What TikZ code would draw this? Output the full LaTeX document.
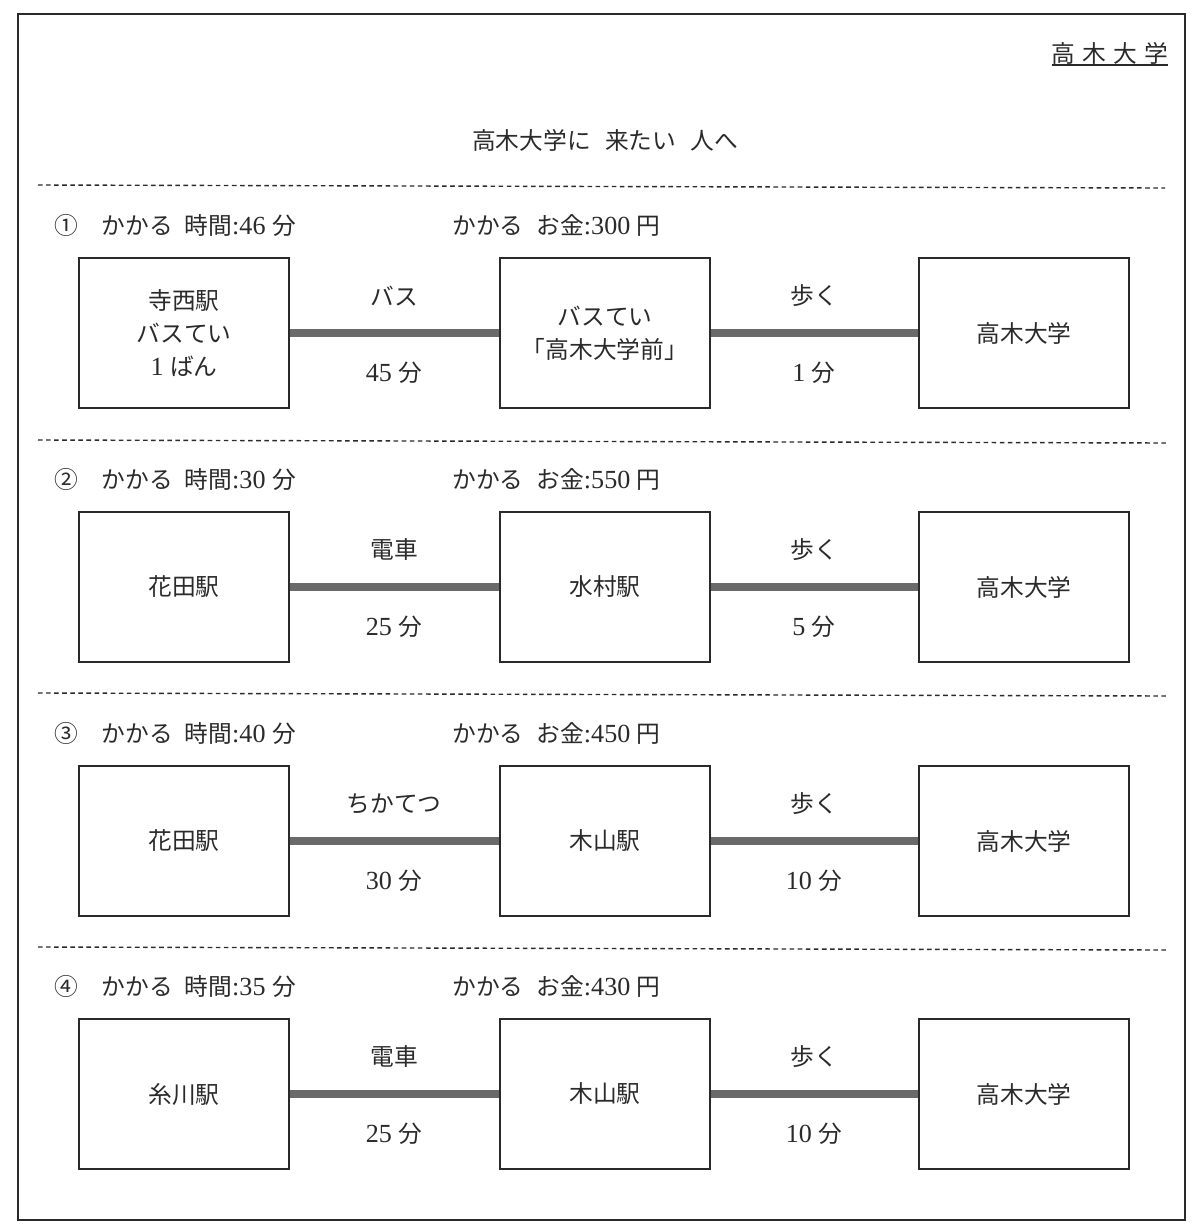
\documentclass[tikz,border=0pt]{standalone}
\usepackage{fontspec}
\setmainfont{Noto Sans CJK JP}
\newfontfamily\lat[Scale=1.1]{Liberation Serif}
\definecolor{routegray}{HTML}{6A6A6A}
\definecolor{ink}{HTML}{2A2A2A}
\tikzset{
  stbox/.style={draw=ink, line width=1.1pt, minimum width=4.2cm, minimum height=3cm, inner sep=0pt, align=center, font=\fontsize{13.5}{18.7}\selectfont, text=ink},
  route/.style={line width=4.6pt, draw=routegray},
  lbl/.style={font=\fontsize{13.5}{16}\selectfont, inner sep=0pt, text=ink},
  sepline/.style={draw=ink, dash pattern=on 2.6pt off 2pt, line width=0.8pt},
}
\newcommand\routerow[9]{%
  % #1 id, #2 top y, #3 header left, #4 money, #5 box1, #6 mode, #7 min, #8 box2, #9 walk min
  \node[lbl, anchor=west] (hl#1) at (54,{#2-33}) {#3};
  \node[lbl, anchor=west] (hr#1) at (452,{#2-33}) {かかる\hspace{0.55em}お金{\lat :#4 }円};
  \node[stbox] (a#1) at (184,{#2+75}) {#5};
  \node[stbox] (b#1) at (605,{#2+75}) {#8};
  \node[stbox] (c#1) at (1024,{#2+75}) {高木大学};
  \draw[route] (a#1.east) -- (b#1.west);
  \draw[route] (b#1.east) -- (c#1.west);
  \node[lbl] (m#1) at (394,{#2+38}) {#6};
  \node[lbl] (t#1) at (394,{#2+115}) {{\lat #7 }分};
  \node[lbl] (w#1) at (814,{#2+38}) {歩く};
  \node[lbl] (v#1) at (814,{#2+115}) {{\lat #9 }分};
}
\begin{document}
\begin{tikzpicture}[x=0.02cm, y=-0.02cm]
  \useasboundingbox (0,0) rectangle (1200,1231);
  \draw[ink, line width=1.1pt] (18,14) rectangle (1185,1220);
  \node[lbl, anchor=south] (title) at (1110,65) {高\hspace{0.3em}木\hspace{0.3em}大\hspace{0.3em}学};
  \draw[ink, line width=0.9pt] (title.south west) -- (title.south east);
  \node[lbl] (head) at (605,140) {高木大学に\hspace{0.6em}来たい\hspace{0.6em}人へ};
  \coordinate (s1l) at (38,185); \coordinate (s1r) at (1165,188);
  \coordinate (s2l) at (38,440); \coordinate (s2r) at (1168,443);
  \coordinate (s3l) at (38,693); \coordinate (s3r) at (1168,696);
  \coordinate (s4l) at (38,947); \coordinate (s4r) at (1168,950);
  \draw[sepline] (s1l) -- (s1r);
  \draw[sepline] (s2l) -- (s2r);
  \draw[sepline] (s3l) -- (s3r);
  \draw[sepline] (s4l) -- (s4r);
  \routerow{1}{258}{①\hspace{1em}かかる\hspace{0.5em}時間{\lat :46 }分}{300}{寺西駅\\バスてい\\{\lat 1 }ばん}{バス}{45}{バスてい\\「高木大学前」}{1}
  \routerow{2}{512}{②\hspace{1em}かかる\hspace{0.5em}時間{\lat :30 }分}{550}{花田駅}{電車}{25}{水村駅}{5}
  \routerow{3}{766}{③\hspace{1em}かかる\hspace{0.5em}時間{\lat :40 }分}{450}{花田駅}{ちかてつ}{30}{木山駅}{10}
  \routerow{4}{1019}{④\hspace{1em}かかる\hspace{0.5em}時間{\lat :35 }分}{430}{糸川駅}{電車}{25}{木山駅}{10}
\end{tikzpicture}
\end{document}
